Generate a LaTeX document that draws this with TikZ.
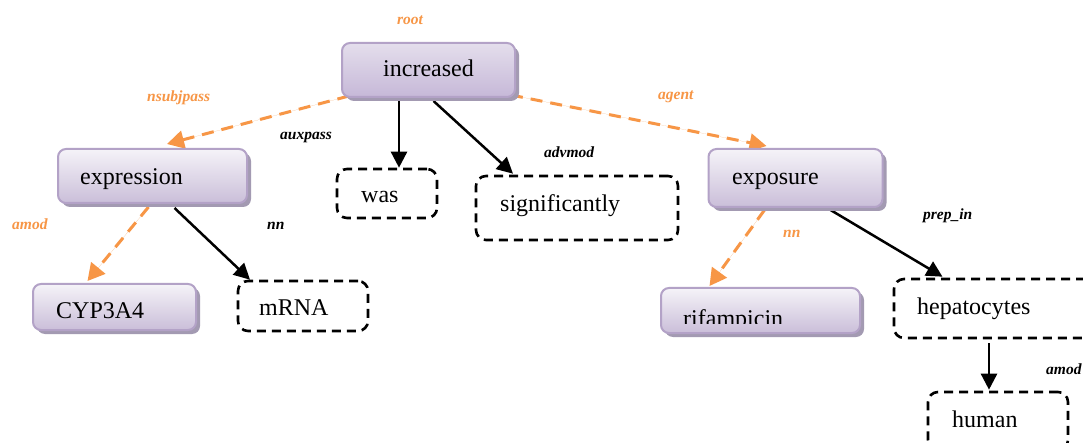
\documentclass[tikz,border=0pt]{standalone}
\usepackage{fontspec}
\setmainfont{Liberation Serif}
\usetikzlibrary{arrows.meta,shadows,calc}
\definecolor{org}{HTML}{F79646}
\definecolor{pborder}{HTML}{B3A2C7}
\definecolor{pshadow}{HTML}{A39AB2}
\definecolor{ptop}{HTML}{F5F3F8}
\definecolor{pbot}{HTML}{CABED9}
\definecolor{itop}{HTML}{E4DEEC}
\definecolor{ibot}{HTML}{C6B8D8}
\pgfdeclarelayer{bg}
\pgfdeclarelayer{paper}
\pgfsetlayers{paper,bg,main}
\begin{document}
\begin{tikzpicture}[x=1pt,y=-1pt,
  pbox/.style={draw=pborder, line width=2pt, rounded corners=8pt, top color=ptop, bottom color=pbot,
    drop shadow={shadow xshift=4pt, shadow yshift=-4pt, fill=pshadow, opacity=1}, inner sep=0pt},
  ibox/.style={pbox, top color=itop, bottom color=ibot},
  dbox/.style={draw=black, line width=2.6pt, dash pattern=on 9pt off 6pt, rounded corners=10pt, inner sep=0pt},
  txt/.style={font=\fontsize{24}{28}\selectfont, anchor=base west, inner sep=0pt},
  lab/.style={font=\fontsize{15.5}{18}\selectfont\bfseries\itshape, anchor=base west, inner sep=0pt},
  olab/.style={lab, text=org},
  blk/.style={line width=2.5pt, -{Triangle[length=16pt,width=16pt]}},
  orn/.style={draw=org, line width=3pt, dash pattern=on 12pt off 8pt, -{Triangle[length=17pt,width=18pt]}, fill=org}]
\clip (0,0) rectangle (1083,443);
\begin{pgfonlayer}{paper}
\fill[white] (0,0) rectangle (1083,443);
\end{pgfonlayer}

% purple boxes
\node[ibox, minimum width=173pt, minimum height=54pt] (inc) at (428.5,70) {};
\node[txt] (tinc) at (383,77) {increased};
\node[pbox, minimum width=189pt, minimum height=54pt] (expr) at (152.5,176) {};
\node[txt] (texpr) at (80,185) {expression};
\node[pbox, minimum width=174pt, minimum height=58pt] (expo) at (795.5,178) {};
\node[txt] (texpo) at (732,185) {exposure};
\node[pbox, minimum width=163pt, minimum height=46pt] (cyp) at (114.5,307) {};
\node[txt] (tcyp) at (56,319) {CYP3A4};
\node[pbox, minimum width=199pt, minimum height=45pt] (rif) at (760.5,310.5) {};
\begin{scope}
  \clip (661,288) rectangle (860,323.5);
  \node[txt] (trif) at (683,326) {rifampicin};
\end{scope}

% dashed boxes
\node[dbox, minimum width=100pt, minimum height=49pt] (was) at (387,193.5) {};
\node[txt] (twas) at (361,203) {was};
\node[dbox, minimum width=202pt, minimum height=64pt] (sig) at (577,208) {};
\node[txt] (tsig) at (500,212) {significantly};
\node[dbox, minimum width=130pt, minimum height=50pt] (mrna) at (303,306) {};
\node[txt] (tmrna) at (259,316) {mRNA};
\node[dbox, minimum width=201pt, minimum height=59pt] (hep) at (994.5,308.5) {};
\node[txt] (thep) at (917,315) {hepatocytes};
\node[dbox, minimum width=140pt, minimum height=58pt] (human) at (998,421) {};
\node[txt] (thum) at (952,427) {human};

% labels
\node[olab] (lroot) at (397,25) {root};
\node[olab] (lnsub) at (147,102) {nsubjpass};
\node[lab] (laux) at (280,140) {auxpass};
\node[olab] (lagent) at (658,100) {agent};
\node[lab] (ladv) at (544,158) {advmod};
\node[olab] (lamod) at (12,230) {amod};
\node[lab] (lnn) at (267,230) {nn};
\node[olab] (lnn2) at (783,238) {nn};
\node[lab] (lprep) at (923,220) {prep\_in};
\node[lab] (lamod2) at (1046,374) {amod};

% connectors
\begin{pgfonlayer}{bg}
\draw[orn] ($(inc.south west)+(8,-2)$) -- ($(expr.north)+(14.5,-4)$);
\draw[orn] ($(inc.south east)+(-5,-3)$) -- ($(expo.north)+(-29,-2)$);
\draw[blk] ($(inc.south)+(-29.5,0)$) -- ($(was.north)+(12,0)$);
\draw[blk] ($(inc.south)+(5,3)$) -- ($(sig.north)+(-64,-1)$);
\draw[orn] ($(expr.south)+(-4,3)$) -- ($(cyp.north)+(-27,-2)$);
\draw[blk] ($(expr.south)+(22,4)$) -- ($(mrna.north)+(-53,0)$);
\draw[orn] ($(expo.south)+(-31,2)$) -- ($(rif.north)+(-51,-1)$);
\draw[blk] ($(expo.south)+(30,-1)$) -- ($(hep.north)+(-52,-1)$);
\draw[blk] ($(hep.south)+(-5.5,4)$) -- ($(human.north)+(-9,-1)$);
\end{pgfonlayer}
\end{tikzpicture}
\end{document}
